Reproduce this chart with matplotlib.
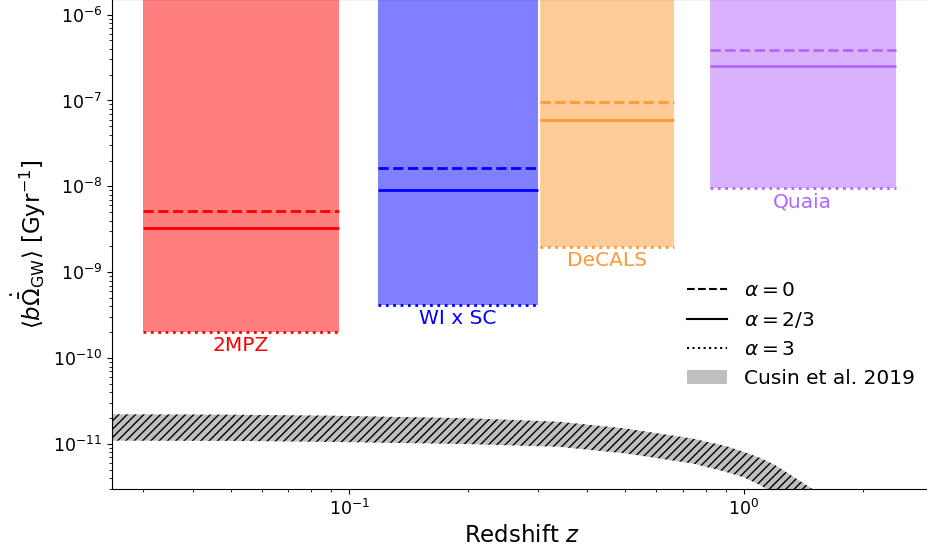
import numpy as np
import matplotlib
matplotlib.use("Agg")
import matplotlib.pyplot as plt
from matplotlib.lines import Line2D
from matplotlib.patches import Patch
from matplotlib.ticker import NullFormatter

# surveys: redshift range and levels for alpha = 0, 2/3, 3
names = ["2MPZ", "WI x SC", "DeCALS", "Quaia"]
z_min = [0.030, 0.118, 0.305, 0.82]
z_max = [0.094, 0.300, 0.665, 2.43]
val_a0 = [5.2e-9, 1.62e-8, 9.6e-8, 3.9e-7]
val_a23 = [3.3e-9, 9.0e-9, 5.9e-8, 2.5e-7]
val_a3 = [2.03e-10, 4.16e-10, 1.96e-9, 9.5e-9]
colors = ["red", "blue", "#ff9933", "#b266ff"]
bar_top = 1e-5

# Cusin et al. 2019 band
cusin_z = [0.02, 0.05, 0.09, 0.2, 0.34, 0.5, 0.74, 0.9, 1.0, 1.1, 1.2, 1.5, 1.7]
cusin_hi = [2.23e-11, 2.2e-11, 2.14e-11, 2.0e-11, 1.82e-11, 1.52e-11, 1.16e-11,
            9.5e-12, 8.1e-12, 6.9e-12, 5.7e-12, 2.96e-12, 1.5e-12]
cusin_lo = [1.1e-11, 1.09e-11, 1.06e-11, 1.0e-11, 9.3e-12, 7.8e-12, 5.96e-12,
            4.75e-12, 4.1e-12, 3.33e-12, 2.6e-12, 1.2e-12, 6e-13]

yticks = [1e-11, 1e-10, 1e-9, 1e-8, 1e-7, 1e-6]

fig = plt.figure(figsize=(9.27, 5.48), dpi=100)
ax = fig.add_axes([112/927, 59/548, (932-112)/927, 489/548 + 0.001])

for i in range(len(names)):
    c = colors[i]
    ax.fill_between([z_min[i], z_max[i]], val_a3[i], bar_top, color=c, alpha=0.5, lw=0)
    ax.hlines(val_a0[i], z_min[i], z_max[i], colors=c, linestyles="--", lw=2)
    ax.hlines(val_a23[i], z_min[i], z_max[i], colors=c, linestyles="-", lw=2)
    ax.hlines(val_a3[i], z_min[i], z_max[i], colors=c, linestyles=":", lw=2)
    ax.annotate(names[i], (np.sqrt(z_min[i]*z_max[i]), val_a3[i]), xytext=(0, -3),
                textcoords="offset points", ha="center", va="top", color=c, fontsize=14.5)

ax.fill_between(cusin_z, cusin_lo, cusin_hi, facecolor="0.75", edgecolor="k",
                lw=0, hatch="////")

ax.set_xscale("log")
ax.set_yscale("log")
ax.set_yticks(yticks)
ax.set_xlim(0.025, 3.0)
ax.set_ylim(3e-12, 1.5e-6)
ax.xaxis.set_minor_formatter(NullFormatter())
ax.yaxis.set_minor_formatter(NullFormatter())
ax.tick_params(labelsize=12.5)
ax.set_xlabel("Redshift $z$", fontsize=16.5)
ax.set_ylabel(r"$\langle b\dot{\bar{\Omega}}_{\rm GW}\rangle$ [Gyr$^{-1}$]", fontsize=16.5)

handles = [Line2D([], [], color="k", ls="--", lw=1.5),
           Line2D([], [], color="k", ls="-", lw=1.5),
           Line2D([], [], color="k", ls=":", lw=1.5),
           Patch(facecolor="0.75")]
labels = [r"$\alpha=0$", r"$\alpha=2/3$", r"$\alpha=3$", "Cusin et al. 2019"]
fig.legend(handles, labels, loc="upper left", bbox_to_anchor=(669/927, 1 - 263/548),
           frameon=False, fontsize=14.5)

fig.savefig("out.png", dpi=100)
